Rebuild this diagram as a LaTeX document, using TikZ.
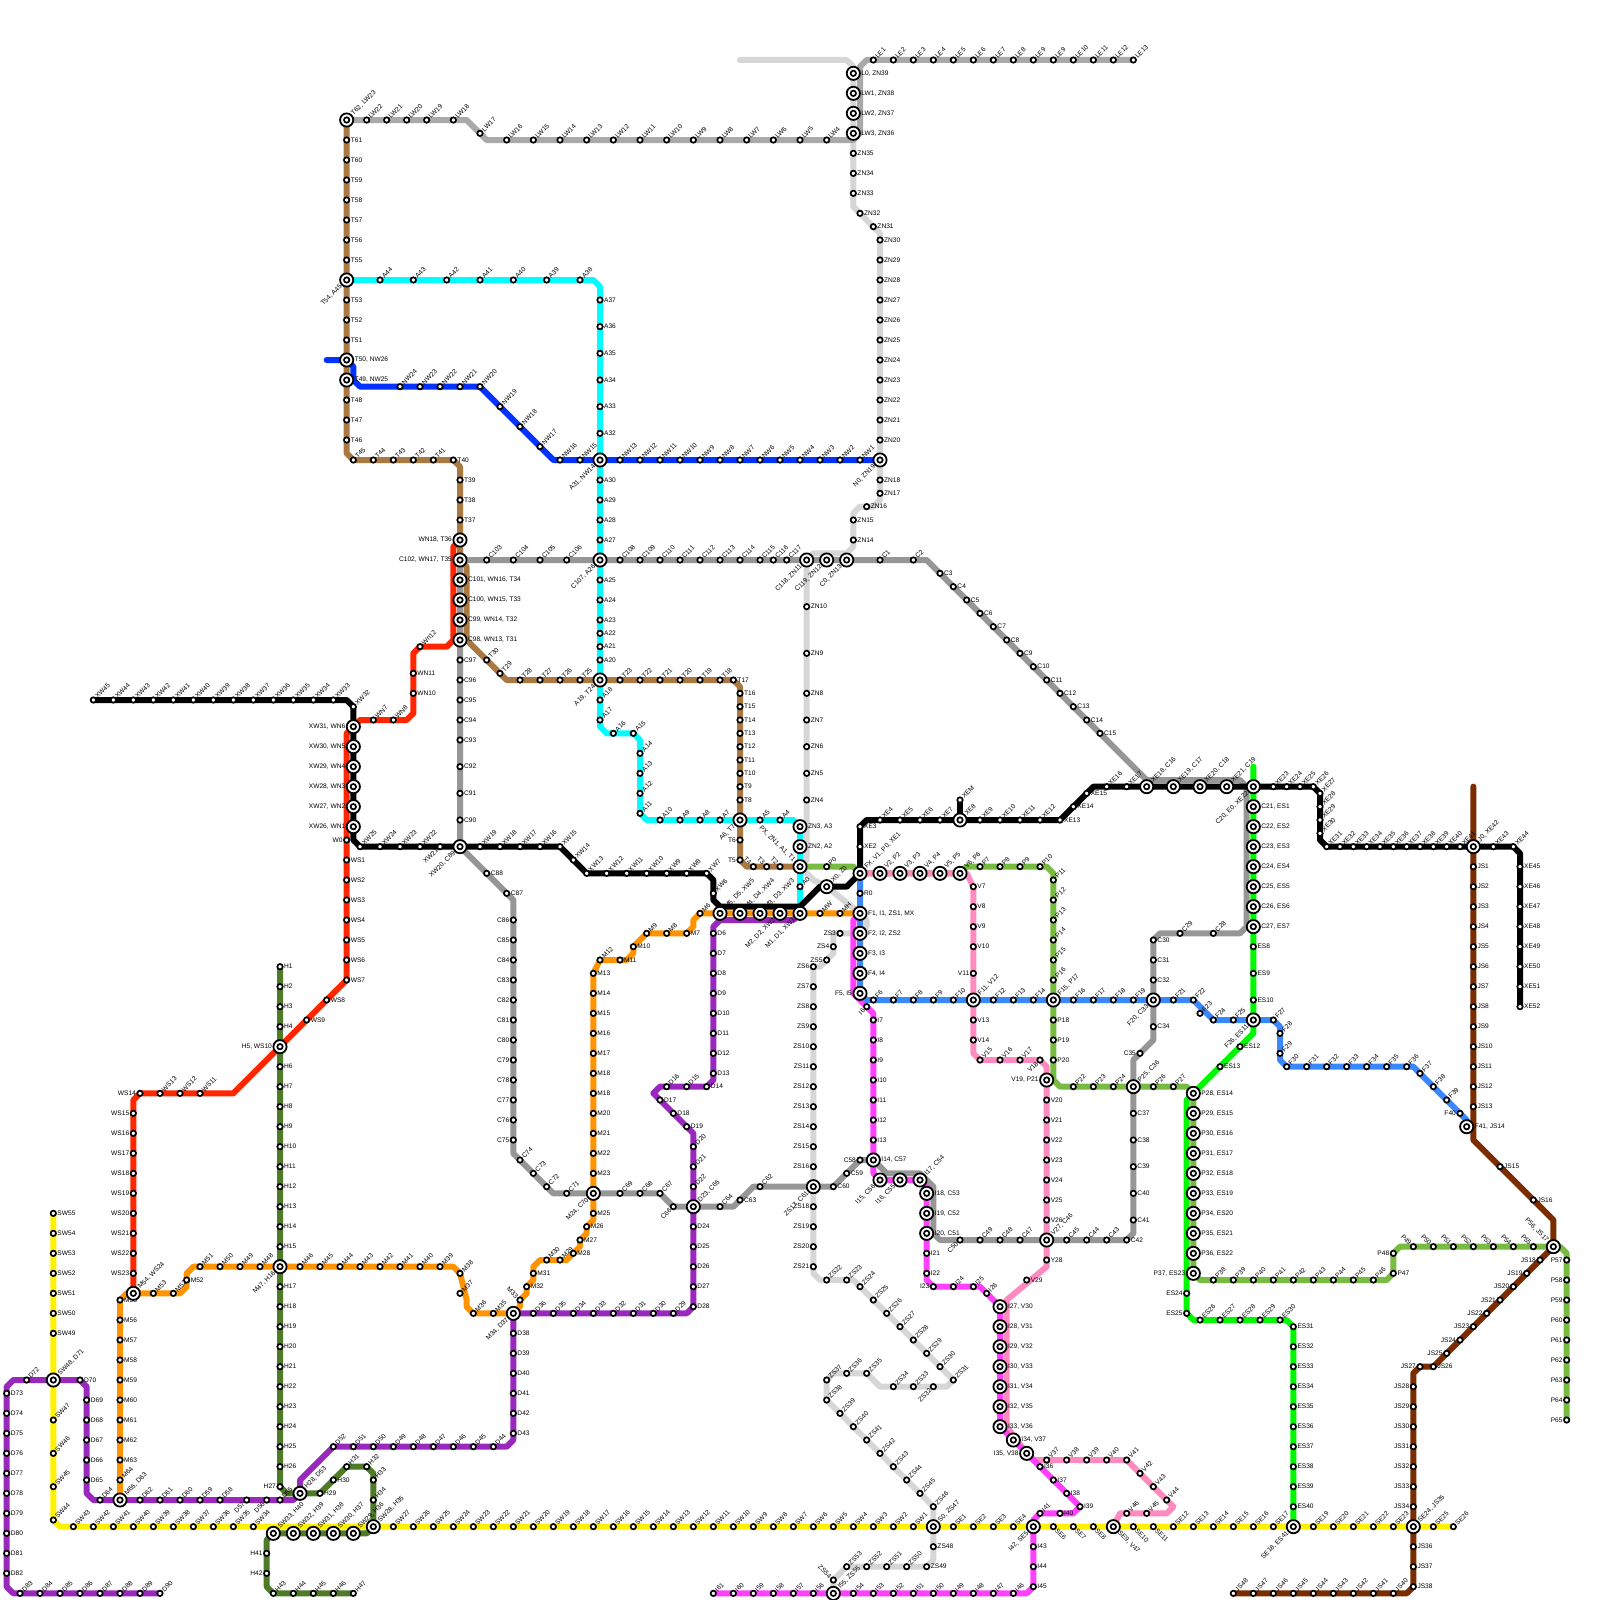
\documentclass[tikz,border=0pt]{standalone}
\usepackage{fontspec}
\setmainfont{Liberation Sans}
\usepackage{xcolor}
\definecolor{tcol}{HTML}{AA7942}
\definecolor{acol}{HTML}{00FDFF}
\definecolor{nwcol}{HTML}{0433FF}
\definecolor{ccol}{HTML}{969696}
\definecolor{lwcol}{HTML}{A9A9A9}
\definecolor{zcol}{HTML}{D6D6D6}
\definecolor{wcol}{HTML}{FF2600}
\definecolor{hcol}{HTML}{4F7A28}
\definecolor{mcol}{HTML}{FF9300}
\definecolor{dcol}{HTML}{9929BD}
\definecolor{scol}{HTML}{FFF200}
\definecolor{icol}{HTML}{FF40FF}
\definecolor{vcol}{HTML}{FF8AC0}
\definecolor{pcol}{HTML}{77BB41}
\definecolor{fcol}{HTML}{3A88FE}
\definecolor{ecol}{HTML}{00F900}
\definecolor{jcol}{HTML}{7B2C00}
\pgfdeclarelayer{lines}
\pgfsetlayers{lines,main}
\tikzset{
  labtext/.style={font=\fontsize{6.6}{7}\selectfont,inner sep=0.4pt},
  lbr/.style={label={[labtext]0:#1}},
  lbl/.style={label={[labtext]180:#1}},
  lbne/.style={label={[labtext,rotate=45,anchor=west]45:#1}},
  lbsw/.style={label={[labtext,rotate=45,anchor=east]225:#1}},
  lbse/.style={label={[labtext,rotate=-45,anchor=west]-45:#1}},
  lbnw/.style={label={[labtext,rotate=-45,anchor=east]135:#1}},
  stopdot/.style={circle,draw=black,fill=white,line width=1.7pt,minimum size=5.4pt,inner sep=0pt,label distance=1.2pt},
  hubring/.style={circle,draw=black,fill=white,line width=1.8pt,minimum size=13.2pt,inner sep=0pt,label distance=2pt},
  ln/.style={line width=6pt,line cap=round,line join=round},
}
\newcommand{\stations}[7]{\foreach \nn [count=\kk from 0] in {#2} {\node[stopdot,#7={#1\nn}] (#1\nn) at ({#3+\kk*#5},{#4+\kk*#6}) {};}}
\newcommand{\stn}[4]{\node[stopdot,#4={#1}] (#1) at (#2,#3) {};}
\newcommand{\hub}[5]{\node[hubring,#4={#5}] (#1) at (#2,#3) {}; \node[stopdot] (#1c) at (#1) {};}
\begin{document}
\begin{tikzpicture}[x=6.6667pt,y=-6.6667pt]
\useasboundingbox (0,0) rectangle (240,240);
\hub{T62}{52}{18}{lbne}{T62, LW23}
\stations{T}{61,60,...,55}{52}{21}{0}{3}{lbr}
\hub{T54}{52}{42}{lbsw}{T54, A45}
\stations{T}{53,52,51}{52}{45}{0}{3}{lbr}
\hub{T50}{52}{54}{lbr}{T50, NW26}
\hub{T49}{52}{57}{lbr}{T49, NW25}
\stations{T}{48,47,46}{52}{60}{0}{3}{lbr}
\stations{T}{45,44,...,41}{53}{69}{3}{0}{lbne}
\stn{T40}{68}{69}{lbr}
\stations{T}{39,38,37}{69}{72}{0}{3}{lbr}
\hub{T36}{69}{81}{lbl}{WN18, T36}
\hub{T35}{69}{84}{lbl}{C102, WN17, T35}
\hub{T34}{69}{87}{lbr}{C101, WN16, T34}
\hub{T33}{69}{90}{lbr}{C100, WN15, T33}
\hub{T32}{69}{93}{lbr}{C99, WN14, T32}
\hub{T31}{69}{96}{lbr}{C98, WN13, T31}
\stn{T30}{73}{99}{lbne}
\stn{T29}{75}{101}{lbne}
\stations{T}{28,27,26,25}{78}{102}{3}{0}{lbne}
\hub{T24}{90}{102}{lbsw}{A19, T24}
\stations{T}{23,22,...,18}{93}{102}{3}{0}{lbne}
\stn{T17}{110}{102}{lbr}
\stations{T}{16,15,...,8}{111}{104}{0}{2}{lbr}
\hub{T7}{111}{123}{lbsw}{A6, T7}
\stn{T6}{111}{126}{lbl}
\stn{T5}{111}{129}{lbl}
\stations{T}{4,3,2}{113}{130}{2}{0}{lbnw}
\hub{T1}{120}{130}{lbnw}{PX, ZN1, A1, T1}
\stations{LW}{22,21,20,19}{55}{18}{3}{0}{lbne}
\stn{LW18}{68}{18}{lbne}
\stn{LW17}{72}{20}{lbne}
\stations{LW}{16,15,...,4}{76}{21}{4}{0}{lbne}
\hub{LW3}{128}{20}{lbr}{LW3, ZN36}
\hub{LW2}{128}{17}{lbr}{LW2, ZN37}
\hub{LW1}{128}{14}{lbr}{LW1, ZN38}
\hub{L0}{128}{11}{lbr}{L0, ZN39}
\stations{LE}{1,2,...,9}{131}{9}{3}{0}{lbne}
\node[stopdot,lbne={LE9}] (LE9b) at (158,9) {};
\stations{LE}{10,11,12,13}{161}{9}{3}{0}{lbne}
\stations{ZN}{35,34,33}{128}{23}{0}{3}{lbr}
\stn{ZN32}{129}{32}{lbr}
\stn{ZN31}{131}{34}{lbr}
\stations{ZN}{30,29,...,20}{132}{36}{0}{3}{lbr}
\hub{N0}{132}{69}{lbsw}{N0, ZN19}
\stn{ZN18}{132}{72}{lbr}
\stn{ZN17}{132}{74}{lbr}
\stn{ZN16}{130}{76}{lbr}
\stn{ZN15}{128}{78}{lbr}
\stn{ZN14}{128}{81}{lbr}
\hub{C118}{121}{84}{lbsw}{C118, ZN11}
\hub{C119}{124}{84}{lbsw}{C119, ZN12}
\hub{C0}{127}{84}{lbsw}{C0, ZN13}
\stn{ZN10}{121}{91}{lbr}
\stn{ZN9}{121}{98}{lbr}
\stn{ZN8}{121}{104}{lbr}
\stations{ZN}{7,6,5,4}{121}{108}{0}{4}{lbr}
\stations{A}{44,43,...,38}{57}{42}{5}{0}{lbne}
\stations{A}{37,36,...,32}{90}{45}{0}{4}{lbr}
\hub{A31}{90}{69}{lbsw}{A31, NW14}
\stations{A}{30,29,28,27}{90}{72}{0}{3}{lbr}
\hub{C107}{90}{84}{lbsw}{C107, A26}
\stations{A}{25,24,23}{90}{87}{0}{3}{lbr}
\stations{A}{22,21,20}{90}{95}{0}{2}{lbr}
\stn{A18}{90}{105}{lbne}
\stn{A17}{90}{108}{lbne}
\stn{A16}{92}{110}{lbne}
\stn{A15}{95}{110}{lbne}
\stations{A}{14,13,12,11}{96}{113}{0}{3}{lbne}
\stations{A}{10,9,8,7}{99}{123}{3}{0}{lbne}
\stn{A5}{114}{123}{lbne}
\stn{A4}{117}{123}{lbne}
\hub{A3}{120}{124}{lbr}{ZN3, A3}
\hub{A2}{120}{127}{lbr}{ZN2, A2}
\stn{A0}{120}{133}{lbne}
\stations{NW}{24,23,...,20}{60}{58}{3}{0}{lbne}
\stations{NW}{19,18,17}{75}{61}{3}{3}{lbne}
\stations{NW}{16,15}{84}{69}{3}{0}{lbne}
\stations{NW}{13,12,...,1}{93}{69}{3}{0}{lbne}
\stn{C1}{132}{84}{lbne}
\stn{C2}{137}{84}{lbne}
\stations{C}{3,4,...,15}{141}{86}{2}{2}{lbr}
\hub{XE18}{172}{118}{lbne}{XE18, C16}
\hub{XE19}{176}{118}{lbne}{XE19, C17}
\hub{XE20}{180}{118}{lbne}{XE20, C18}
\hub{XE21}{184}{118}{lbne}{XE21, C19}
\hub{C20}{188}{118}{lbsw}{C20, E0, XE22}
\foreach \nn/\mm/\yy in {21/1/121,22/2/124,23/3/127,24/4/130,25/5/133,26/6/136,27/7/139} {\hub{C\nn}{188}{\yy}{lbr}{C\nn, ES\mm}}
\stn{C28}{182}{140}{lbne}
\stn{C29}{177}{140}{lbne}
\stations{C}{30,31,32}{173}{141}{0}{3}{lbr}
\hub{C33}{173}{150}{lbsw}{F20, C33}
\stn{C34}{173}{154}{lbr}
\stn{C35}{171}{158}{lbl}
\hub{C36}{170}{163}{lbne}{P25, C36}
\stations{C}{37,38,...,41}{170}{167}{0}{4}{lbr}
\stn{C42}{169}{186}{lbr}
\stations{C}{43,44,45}{166}{186}{-3}{0}{lbne}
\hub{C46}{157}{186}{lbne}{V27, C46}
\stations{C}{47,48,49}{153}{186}{-3}{0}{lbne}
\stn{C50}{144}{186}{lbsw}
\hub{C51}{139}{185}{lbr}{I20, C51}
\hub{C52}{139}{182}{lbr}{I19, C52}
\hub{C53}{139}{179}{lbr}{I18, C53}
\hub{C54}{138}{177}{lbne}{I17, C54}
\hub{C55}{135}{177}{lbsw}{I16, C55}
\hub{C56}{132}{177}{lbsw}{I15, C56}
\hub{C57}{131}{174}{lbr}{I14, C57}
\stn{C58}{129}{174}{lbl}
\stn{C59}{127}{176}{lbr}
\stn{C60}{125}{178}{lbr}
\hub{C61}{122}{178}{lbsw}{ZS17, C61}
\stn{C62}{114}{178}{lbne}
\stn{C63}{111}{180}{lbr}
\stn{C64}{108}{181}{lbne}
\hub{C65}{104}{181}{lbne}{D23, C65}
\stn{C66}{101}{181}{lbsw}
\stations{C}{67,68,69}{99}{179}{-3}{0}{lbne}
\hub{C70}{89}{179}{lbsw}{M24, C70}
\stn{C71}{85}{179}{lbne}
\stations{C}{72,73,74}{82}{178}{-2}{-2}{lbne}
\stations{C}{75,76,...,86}{77}{171}{0}{-3}{lbl}
\stn{C87}{76}{134}{lbr}
\stn{C88}{73}{131}{lbr}
\hub{C89}{69}{127}{lbsw}{XW20, C89}
\stations{C}{90,91,92}{69}{123}{0}{-4}{lbr}
\stations{C}{93,94,...,97}{69}{111}{0}{-3}{lbr}
\stations{C}{103,104,105,106}{73}{84}{4}{0}{lbne}
\stations{C}{108,109,...,114}{93}{84}{3}{0}{lbne}
\stations{C}{115,116,117}{114}{84}{2}{0}{lbne}
\hub{XE1}{129}{131}{lbne}{FX, V1, P0, XE1}
\stn{XE2}{129}{127}{lbr}
\stn{XE3}{129}{124}{lbr}
\stations{XE}{4,5,6,7}{132}{123}{3}{0}{lbne}
\hub{XE8}{144}{123}{lbne}{XE8}
\stn{XEM}{144}{120}{lbne}
\stations{XE}{9,10,11,12}{147}{123}{3}{0}{lbne}
\stations{XE}{13,14,15}{159}{123}{2}{-2}{lbr}
\stn{XE16}{166}{118}{lbne}
\stn{XE17}{169}{118}{lbne}
\stations{XE}{23,24,25,26}{191}{118}{2}{0}{lbne}
\stn{XE27}{198}{119}{lbne}
\stations{XE}{28,29,30}{198}{121}{0}{2}{lbne}
\stations{XE}{31,32,...,41}{199}{127}{2}{0}{lbne}
\hub{XE42}{221}{127}{lbne}{J0, XE42}
\stn{XE43}{224}{127}{lbne}
\stn{XE44}{227}{127}{lbne}
\stations{XE}{45,46,...,52}{228}{130}{0}{3}{lbr}
\stations{JS}{1,2,...,13}{221}{130}{0}{3}{lbr}
\hub{JS14}{220}{169}{lbr}{F41, JS14}
\stn{JS15}{225}{175}{lbr}
\stn{JS16}{230}{180}{lbr}
\hub{JS17}{233}{187}{lbnw}{P56, JS17}
\stations{JS}{18,19,...,25}{231}{189}{-2}{2}{lbl}
\stn{JS26}{215}{205}{lbr}
\stn{JS27}{213}{205}{lbl}
\stations{JS}{28,29,...,34}{212}{208}{0}{3}{lbl}
\hub{JS35}{212}{229}{lbne}{SE24, JS35}
\stations{JS}{36,37,38}{212}{232}{0}{3}{lbr}
\stations{JS}{40,41,...,48}{209}{239}{-3}{0}{lbne}
\stn{P0}{124}{130}{lbne}
\stations{P}{7,8,9,10}{147}{130}{3}{0}{lbne}
\stations{P}{11,12,...,16}{158}{132}{0}{3}{lbne}
\hub{F15}{158}{150}{lbne}{F15, P17}
\stations{P}{18,19,20}{158}{153}{0}{3}{lbr}
\hub{P21}{157}{162}{lbl}{V19, P21}
\stations{P}{22,23,24}{161}{163}{3}{0}{lbne}
\stations{P}{26,27}{173}{163}{3}{0}{lbne}
\foreach \nn/\mm/\yy in {28/14/164,29/15/167,30/16/170,31/17/173,32/18/176,33/19/179,34/20/182,35/21/185,36/22/188} {\hub{P\nn}{179}{\yy}{lbr}{P\nn, ES\mm}}
\hub{P37}{179}{191}{lbl}{P37, ES23}
\stations{P}{38,39,...,46}{182}{192}{3}{0}{lbne}
\stn{P47}{209}{191}{lbr}
\stn{P48}{209}{188}{lbl}
\stations{P}{49,50,...,55}{212}{187}{3}{0}{lbnw}
\stations{P}{57,58,...,65}{235}{189}{0}{3}{lbl}
\foreach \nn/\xx in {2/132,3/135,4/138,5/141,6/144} {\hub{V\nn}{\xx}{131}{lbne}{V\nn, P\nn}}
\stn{V7}{146}{133}{lbr}
\stations{V}{8,9,10}{146}{136}{0}{3}{lbr}
\stn{V11}{146}{146}{lbl}
\hub{F11}{146}{150}{lbne}{F11, V12}
\stations{V}{13,14}{146}{153}{0}{3}{lbr}
\stations{V}{15,16,17}{147}{159}{3}{0}{lbne}
\stn{V18}{156}{159}{lbsw}
\stations{V}{20,21,...,26}{157}{165}{0}{3}{lbr}
\node[stopdot,lbr={Y28}] (V28) at (157,189) {};
\stn{V29}{154}{192}{lbr}
\foreach \nn/\mm/\yy in {27/30/196,28/31/199,29/32/202,30/33/205,31/34/208,32/35/211,33/36/214} {\hub{I\nn}{150}{\yy}{lbr}{I\nn, V\mm}}
\hub{I34}{152}{216}{lbr}{I34, V37}
\hub{I35}{154}{218}{lbl}{I35, V38}
\stations{V}{37,38,...,41}{157}{219}{3}{0}{lbne}
\stations{V}{42,43,44}{171}{221}{2}{2}{lbne}
\stn{V45}{172}{227}{lbne}
\stn{V46}{169}{227}{lbne}
\hub{SE9}{167}{229}{lbse}{SE9, V47}
\stn{R0}{129}{134}{lbr}
\hub{F1}{129}{137}{lbr}{F1, I1, ZS1, MX}
\hub{F2}{129}{140}{lbr}{F2, I2, ZS2}
\hub{F3}{129}{143}{lbr}{F3, I3}
\hub{F4}{129}{146}{lbr}{F4, I4}
\hub{F5}{129}{149}{lbl}{F5, I5}
\stations{F}{6,7,...,10}{131}{150}{3}{0}{lbne}
\stations{F}{12,13,14}{149}{150}{3}{0}{lbne}
\stations{F}{16,17,18,19}{161}{150}{3}{0}{lbne}
\stations{F}{21,22}{176}{150}{3}{0}{lbne}
\stn{F23}{180}{152}{lbne}
\stations{F}{24,25}{182}{153}{3}{0}{lbne}
\hub{F26}{188}{153}{lbsw}{F26, ES11}
\stn{F27}{191}{153}{lbne}
\stn{F28}{192}{155}{lbne}
\stn{F29}{192}{158}{lbne}
\stn{F30}{193}{160}{lbne}
\stations{F}{31,32,...,36}{196}{160}{3}{0}{lbne}
\stations{F}{37,38,39}{213}{161}{2}{2}{lbne}
\stn{F40}{219}{167}{lbl}
\stations{ES}{8,9,10}{188}{142}{0}{4}{lbr}
\stn{ES12}{186}{157}{lbr}
\stn{ES13}{183}{160}{lbr}
\stn{ES24}{178}{194}{lbl}
\stn{ES25}{178}{197}{lbl}
\stations{ES}{26,27,...,30}{180}{198}{3}{0}{lbne}
\stations{ES}{31,32,...,40}{194}{199}{0}{3}{lbr}
\hub{ES41}{194}{229}{lbsw}{SE18, ES41}
\hub{S0}{140}{229}{lbne}{S0, ZS47}
\stations{SE}{1,2,3,4}{143}{229}{3}{0}{lbne}
\hub{SE5}{155}{229}{lbsw}{I42, SE5}
\stations{SE}{6,7,8}{158}{229}{3}{0}{lbse}
\stations{SE}{10,11}{170}{229}{3}{0}{lbse}
\stations{SE}{12,13,...,17}{176}{229}{3}{0}{lbne}
\stations{SE}{19,20,...,23}{197}{229}{3}{0}{lbne}
\stations{SE}{25,26}{215}{229}{3}{0}{lbne}
\stations{SW}{1,2,...,27}{137}{229}{-3}{0}{lbne}
\hub{SW28}{56}{229}{lbne}{SW28, H35}
\foreach \nn/\mm/\xx in {29/36/53,30/37/50,31/38/47,32/39/44,33/40/41} {\hub{SW\nn}{\xx}{230}{lbne}{SW\nn, H\mm}}
\stations{SW}{34,35,...,43}{38}{229}{-3}{0}{lbne}
\stn{SW44}{8}{228}{lbne}
\stations{SW}{45,46,47}{8}{223}{0}{-5}{lbne}
\hub{D71}{8}{207}{lbne}{SW48, D71}
\stations{SW}{49,50,...,55}{8}{200}{0}{-3}{lbr}
\stations{H}{1,2,3,4}{42}{145}{0}{3}{lbr}
\hub{WS10}{42}{157}{lbl}{H5, WS10}
\stations{H}{6,7,...,15}{42}{160}{0}{3}{lbr}
\hub{M47}{42}{190}{lbsw}{M47, H16}
\stations{H}{17,18,...,26}{42}{193}{0}{3}{lbr}
\stn{H27}{42}{223}{lbl}
\hub{D53}{45}{224}{lbne}{H28, D53}
\stn{H29}{48}{224}{lbr}
\stn{H30}{50}{222}{lbr}
\stn{H31}{52}{220}{lbne}
\stn{H32}{55}{220}{lbne}
\stn{H33}{56}{222}{lbne}
\stn{H34}{56}{225}{lbne}
\stn{H41}{40}{233}{lbl}
\stn{H42}{40}{236}{lbl}
\stations{H}{43,44,...,47}{41}{239}{3}{0}{lbne}
\stn{W0}{52}{126}{lbl}
\stations{WS}{1,2,...,7}{52}{129}{0}{3}{lbr}
\stn{WS8}{49}{150}{lbr}
\stn{WS9}{46}{153}{lbr}
\stations{WS}{11,12,13}{30}{164}{-3}{0}{lbne}
\stn{WS14}{21}{164}{lbl}
\stations{WS}{15,16,...,23}{20}{167}{0}{3}{lbl}
\foreach \nn/\mm/\yy in {31/6/109,30/5/112,29/4/115,28/3/118,27/2/121,26/1/124} {\hub{XW\nn}{53}{\yy}{lbl}{XW\nn, WN\mm}}
\stations{WN}{7,8}{56}{108}{3}{0}{lbne}
\stn{WN10}{62}{104}{lbr}
\stn{WN11}{62}{101}{lbr}
\node[stopdot,lbne={Wn12}] (WN12) at (63,97) {};
\stations{XW}{45,44,...,33}{14}{105}{3}{0}{lbne}
\stn{XW32}{53}{106}{lbne}
\stn{XW25}{54}{127}{lbne}
\stations{XW}{24,23,22}{57}{127}{3}{0}{lbne}
\stn{XW21}{66}{127}{lbsw}
\stations{XW}{19,18,...,15}{72}{127}{3}{0}{lbne}
\stn{XW14}{86}{129}{lbne}
\stations{XW}{13,12,...,7}{88}{131}{3}{0}{lbne}
\stn{XW6}{107}{134}{lbne}
\hub{M5}{108}{137}{lbne}{M5, D5, XW5}
\hub{M4}{111}{137}{lbne}{M4, D4, XW4}
\hub{M3}{114}{137}{lbne}{M3, D3, XW3}
\hub{M2}{117}{137}{lbsw}{M2, D2, XW2}
\hub{M1}{120}{137}{lbsw}{M1, D1, XW1}
\hub{X0}{124}{133}{lbne}{X0, Z0}
\stn{MW}{123}{137}{lbne}
\stn{MH}{126}{137}{lbne}
\stn{M6}{105}{137}{lbne}
\stn{M7}{103}{140}{lbr}
\stn{M8}{100}{140}{lbne}
\stn{M9}{97}{140}{lbne}
\stn{M10}{95}{142}{lbr}
\stn{M11}{93}{144}{lbr}
\stn{M12}{90}{144}{lbne}
\stations{M}{13,14,...,18}{89}{146}{0}{3}{lbr}
\node[stopdot,lbr={M18}] (M19) at (89,164) {};
\stations{M}{20,21,22,23}{89}{167}{0}{3}{lbr}
\stn{M25}{89}{182}{lbr}
\stations{M}{26,27,28}{88}{184}{-1}{2}{lbr}
\stn{M29}{84}{189}{lbne}
\stn{M30}{82}{189}{lbne}
\stn{M31}{80}{191}{lbr}
\stn{M32}{79}{193}{lbr}
\stn{M33}{78}{195}{lbnw}
\hub{M34}{77}{197}{lbsw}{M34, D37}
\stn{M35}{74}{197}{lbne}
\stn{M36}{71}{197}{lbne}
\stn{M37}{69}{194}{lbne}
\stn{M38}{69}{191}{lbne}
\stations{M}{39,40,...,46}{66}{190}{-3}{0}{lbne}
\stations{M}{48,49,50,51}{39}{190}{-3}{0}{lbne}
\node[stopdot,lbne={M52}] (M52b) at (26,194) {};
\stn{M52}{28}{192}{lbr}
\stn{M53}{23}{194}{lbne}
\stn{M55}{18}{195}{lbr}
\hub{WS24}{20}{194}{lbne}{M54, WS24}
\stations{M}{56,57,...,63}{18}{198}{0}{3}{lbr}
\stn{M64}{18}{222}{lbne}
\hub{D63}{18}{225}{lbne}{M65, D63}
\stations{D}{6,7,...,13}{107}{140}{0}{3}{lbr}
\stn{D14}{106}{163}{lbr}
\stn{D15}{103}{163}{lbne}
\stn{D16}{100}{163}{lbne}
\stations{D}{17,18,19}{99}{165}{2}{2}{lbr}
\stations{D}{20,21,22}{104}{172}{0}{3}{lbne}
\stations{D}{24,25,...,28}{104}{184}{0}{3}{lbr}
\stations{D}{29,30,...,36}{101}{197}{-3}{0}{lbne}
\stations{D}{38,39,...,43}{77}{200}{0}{3}{lbr}
\stations{D}{44,45,...,52}{74}{217}{-3}{0}{lbne}
\stn{D55}{42}{225}{lbne}
\stn{D56}{40}{225}{lbsw}
\stn{D57}{37}{225}{lbsw}
\stations{D}{58,59,...,62}{33}{225}{-3}{0}{lbne}
\stn{D64}{15}{225}{lbne}
\stations{D}{65,66,...,69}{13}{222}{0}{-3}{lbr}
\stn{D70}{12}{207}{lbr}
\stn{D72}{4}{207}{lbne}
\stations{D}{73,74,...,82}{1}{209}{0}{3}{lbr}
\stations{D}{83,84,...,90}{3}{239}{3}{0}{lbne}
\stn{I6}{130}{151}{lbsw}
\stations{I}{7,8,...,13}{131}{153}{0}{3}{lbr}
\stations{I}{21,22}{139}{188}{0}{3}{lbr}
\stn{I23}{140}{193}{lbl}
\stn{I24}{143}{193}{lbne}
\stn{I25}{146}{193}{lbne}
\stn{I26}{148}{194}{lbne}
\stations{I}{36,37,38,39}{156}{220}{2}{2}{lbr}
\stn{I40}{159}{227}{lbr}
\stn{I41}{156}{227}{lbne}
\stations{I}{43,44,45}{155}{232}{0}{3}{lbr}
\stations{I}{46,47,...,54}{152}{239}{-3}{0}{lbne}
\hub{I55}{125}{239}{lbne}{I55, ZS55}
\stations{I}{56,57,...,61}{122}{239}{-3}{0}{lbne}
\stn{ZS3}{126}{140}{lbl}
\stn{ZS4}{125}{142}{lbl}
\stn{ZS5}{124}{144}{lbl}
\stations{ZS}{6,7,...,16}{122}{145}{0}{3}{lbl}
\stations{ZS}{18,19,20,21}{122}{181}{0}{3}{lbl}
\stn{ZS22}{124}{192}{lbne}
\stn{ZS23}{127}{192}{lbne}
\stations{ZS}{24,25,...,31}{129}{193}{2}{2}{lbne}
\stn{ZS32}{140}{208}{lbsw}
\stn{ZS33}{137}{208}{lbne}
\stn{ZS34}{134}{208}{lbne}
\stn{ZS35}{130}{206}{lbne}
\stn{ZS36}{127}{206}{lbne}
\stn{ZS37}{124}{207}{lbne}
\stn{ZS38}{124}{210}{lbne}
\stations{ZS}{39,40,...,46}{126}{212}{2}{2}{lbne}
\stn{ZS48}{140}{232}{lbr}
\stn{ZS49}{139}{235}{lbr}
\stations{ZS}{50,51,52,53}{136}{235}{-3}{0}{lbne}
\stn{ZS54}{125}{237}{lbnw}
\begin{pgfonlayer}{lines}
\draw[ln,zcol] (111,9) -- (127,9) -- (128,10) -- (L0.center) -- (ZN33.center) -- (128,31) -- (ZN31.center) -- (132,35) -- (ZN17.center) -- (132,75) -- (131,76) -- (129,76) -- (128,77) -- (ZN14.center) -- (128,82) -- (127,83) -- (122,83) -- (121,84) -- (121,129) -- (T1.center);
\draw[ln,zcol] (T1.center) -- (122,132) -- (X0.center) -- (F1.center) -- (130,138) -- (130,139) -- (F2.center) -- (125,140) -- (ZS4.center) -- (125,143) -- (123,145) -- (ZS6.center) -- (ZS21.center) -- (122,191) -- (123,192) -- (ZS23.center) -- (128,192) -- (ZS31.center) -- (142,208) -- (ZS34.center) -- (132,208) -- (ZS35.center) -- (125,206) -- (ZS37.center) -- (ZS38.center) -- (ZS46.center) -- (S0.center) -- (140,234) -- (ZS49.center) -- (ZS53.center) -- (ZS54.center) -- (I55.center);
\draw[ln,lwcol] (T62.center) -- (70,18) -- (LW17.center) -- (73,21) -- (128,21) -- (129,20) -- (129,10) -- (130,9) -- (LE13.center);
\draw[ln,ccol] (C0.center) -- (139,84) -- (172,117) -- (186,117) -- (187,118) -- (187,139) -- (186,140) -- (174,140) -- (C30.center) -- (C34.center) -- (173,156) -- (170,159) -- (C41.center) -- (170,185) -- (C42.center) -- (141,186) -- (140,185) -- (140,178) -- (138,176) -- (133,176) -- (C57.center) -- (C58.center) -- (C60.center) -- (C62.center) -- (113,178) -- (110,181) -- (C66.center) -- (C67.center) -- (83,179) -- (C74.center) -- (77,173) -- (77,135) -- (C89.center) -- (T35.center) -- (C0.center);
\draw[ln,tcol] (T62.center) -- (52,68) -- (T45.center) -- (T40.center) -- (69,70) -- (T35.center) -- (70,85) -- (70,96) -- (76,102) -- (T17.center) -- (111,103) -- (T5.center) -- (112,130) -- (T1.center);
\draw[ln,acol] (T54.center) -- (89,42) -- (90,43) -- (A17.center) -- (90,109) -- (91,110) -- (A15.center) -- (96,111) -- (96,122) -- (97,123) -- (119,123) -- (A3.center) -- (120,136);
\draw[ln,nwcol] (49,54) -- (T50.center) -- (53,55) -- (53,57) -- (54,58) -- (NW20.center) -- (83,69) -- (N0.center);
\draw[ln,wcol] (T36.center) -- (68,82) -- (68,96) -- (67,97) -- (WN12.center) -- (62,98) -- (62,107) -- (61,108) -- (54,108) -- (XW31.center) -- (52,110) -- (WS7.center) -- (35,164) -- (WS14.center) -- (20,165) -- (WS24.center);
\draw[ln,hcol] (H1.center) -- (H27.center) -- (43,224) -- (D53.center) -- (H29.center) -- (H31.center) -- (H32.center) -- (56,221) -- (SW28.center) -- (55,230) -- (SW33.center) -- (40,231) -- (40,238) -- (H43.center) -- (H47.center);
\draw[ln,mcol] (F1.center) -- (M6.center) -- (104,138) -- (104,139) -- (M7.center) -- (M9.center) -- (95,142) -- (95,143) -- (94,144) -- (M12.center) -- (M13.center) -- (89,183) -- (M26.center) -- (88,185) -- (M27.center) -- (87,187) -- (M28.center) -- (85,189) -- (81,189) -- (80,190) -- (80,192) -- (M32.center) -- (79,194) -- (M33.center) -- (78,196) -- (M34.center) -- (M36.center) -- (70,196) -- (70,195) -- (M38.center) -- (68,190) -- (29,190) -- (28,191) -- (28,193) -- (27,194) -- (19,194) -- (M55.center) -- (D63.center);
\draw[ln,dcol] (D90.center) -- (2,239) -- (1,238) -- (1,208) -- (2,207) -- (D70.center) -- (13,208) -- (13,224) -- (14,225) -- (44,225) -- (D53.center) -- (45,222) -- (D52.center) -- (76,217) -- (77,216) -- (M34.center) -- (D29.center) -- (103,197) -- (D28.center) -- (104,170) -- (D17.center) -- (98,164) -- (99,163) -- (D14.center) -- (107,162) -- (107,139) -- (108,138) -- (119,138) -- (M1.center);
\draw[ln,scol] (SW55.center) -- (SW44.center) -- (9,229) -- (SE26.center);
\draw[ln,pcol] (T1.center) -- (128,130) -- (XE1.center) -- (V6.center) -- (145,130) -- (157,130) -- (158,131) -- (158,162) -- (159,163) -- (178,163) -- (P28.center) -- (P37.center) -- (180,192) -- (208,192) -- (P47.center) -- (P48.center) -- (210,187) -- (234,187) -- (235,188) -- (P65.center);
\draw[ln,vcol] (XE1.center) -- (145,131) -- (V7.center) -- (146,158) -- (V15.center) -- (V18.center) -- (157,160) -- (V28.center) -- (157,190) -- (151,195) -- (151,214) -- (I35.center) -- (155,219) -- (V41.center) -- (V44.center) -- (176,226) -- (175,227) -- (168,227) -- (SE9.center);
\draw[ln,icol] (F1.center) -- (128,138) -- (128,149) -- (131,152) -- (C57.center) -- (131,176) -- (132,177) -- (C54.center) -- (139,178) -- (139,192) -- (I23.center) -- (147,193) -- (I27.center) -- (I33.center) -- (I39.center) -- (161,227) -- (I41.center) -- (155,228) -- (I45.center) -- (154,239) -- (I61.center);
\draw[ln,fcol] (XE1.center) -- (F5.center) -- (130,150) -- (F22.center) -- (182,153) -- (F27.center) -- (192,154) -- (192,159) -- (F30.center) -- (212,160) -- (220,168) -- (JS14.center);
\draw[ln,ecol] (188,115) -- (F26.center) -- (188,155) -- (P28.center) -- (178,165) -- (ES25.center) -- (178,197) -- (179,198) -- (193,198) -- (ES31.center) -- (ES41.center);
\draw[ln,jcol] (221,118) -- (221,171) -- (233,183) -- (JS17.center) -- (JS26.center) -- (JS27.center) -- (212,206) -- (JS38.center) -- (211,239) -- (JS48.center);
\draw[ln,black] (XW45.center) -- (52,105) -- (XW32.center) -- (53,126) -- (XW25.center) -- (XW15.center) -- (XW13.center) -- (XW7.center) -- (107,132) -- (107,135) -- (108,136) -- (120,136) -- (123,133) -- (127,133) -- (XE1.center) -- (129,124) -- (130,123) -- (XE13.center) -- (164,118) -- (XE26.center) -- (198,119) -- (198,126) -- (XE31.center) -- (XE44.center) -- (228,128) -- (XE52.center);
\draw[ln,black] (XEM.center) -- (XE8.center);
\end{pgfonlayer}
\end{tikzpicture}
\end{document}
